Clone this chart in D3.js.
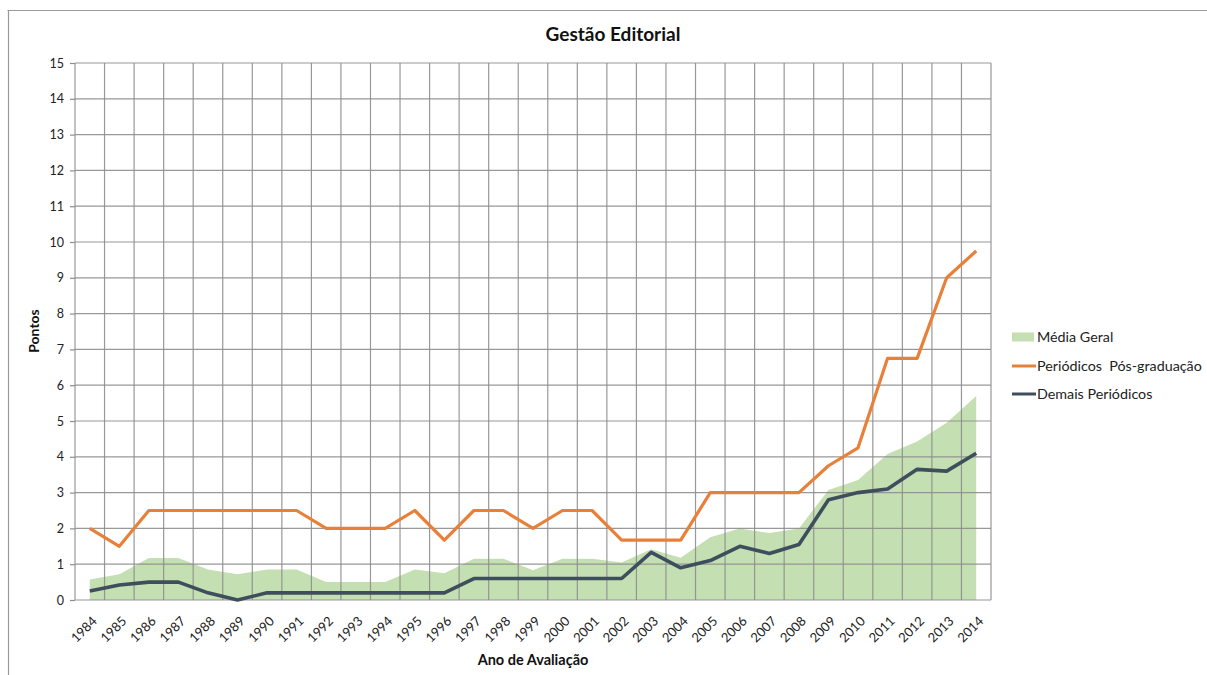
<!DOCTYPE html>
<html>
<head>
<meta charset="utf-8">
<script src="https://cdn.jsdelivr.net/npm/d3@7"></script>
<style>
  html, body { margin: 0; padding: 0; background: #fff; }
  svg { display: block; font-family: Lato, "Open Sans", sans-serif; }
</style>
</head>
<body>
<svg id="chart" width="1207" height="675"></svg>
<script>
const years = ["1984","1985","1986","1987","1988","1989","1990","1991","1992","1993","1994","1995","1996","1997","1998","1999","2000","2001","2002","2003","2004","2005","2006","2007","2008","2009","2010","2011","2012","2013","2014"];
const mediaGeral = [0.57,0.72,1.17,1.17,0.85,0.72,0.85,0.85,0.5,0.5,0.5,0.85,0.75,1.15,1.15,0.83,1.15,1.15,1.05,1.42,1.18,1.75,2.0,1.87,2.0,3.07,3.35,4.08,4.43,4.95,5.7];
const posGraduacao = [2,1.5,2.5,2.5,2.5,2.5,2.5,2.5,2,2,2,2.5,1.67,2.5,2.5,2,2.5,2.5,1.67,1.67,1.67,3,3,3,3,3.75,4.25,6.75,6.75,9,9.75];
const demais = [0.25,0.42,0.5,0.5,0.2,0,0.2,0.2,0.2,0.2,0.2,0.2,0.2,0.6,0.6,0.6,0.6,0.6,0.6,1.33,0.9,1.1,1.5,1.3,1.55,2.8,3.0,3.1,3.65,3.6,4.1];
const yTicks = [0,1,2,3,4,5,6,7,8,9,10,11,12,13,14,15];
const seriesNames = ["Média Geral","Periódicos  Pós-graduação","Demais Periódicos"];
const colors = {area:"#c4dfb2", orange:"#e8803a", dark:"#3e4e5c", grid:"#8e8e8e"};

const svg = d3.select("#chart");
const L = 75, R = 991, T = 63, B = 600;
const x = d3.scaleBand().domain(years).range([L, R]);
const y = d3.scaleLinear().domain([0, 15]).range([B, T]);
const cx = d => x(d) + x.bandwidth() / 2;

// outer frame (partial)
svg.append("line").attr("x1", 7.5).attr("x2", 1207).attr("y1", 10.5).attr("y2", 10.5).attr("stroke", "#999").attr("stroke-width", 1.2);
svg.append("line").attr("x1", 8.5).attr("x2", 8.5).attr("y1", 10.5).attr("y2", 675).attr("stroke", "#999").attr("stroke-width", 1.2);

// area
const areaData = years.map((d, i) => ({year: d, v: mediaGeral[i]}));
svg.append("path").datum(areaData)
  .attr("fill", colors.area)
  .attr("d", d3.area().x(d => cx(d.year)).y0(y(0)).y1(d => y(d.v)));

// grid
const g = svg.append("g");
g.selectAll("line.h").data(yTicks).join("line")
  .attr("x1", L).attr("x2", R).attr("y1", d => y(d)).attr("y2", d => y(d))
  .attr("stroke", colors.grid).attr("stroke-width", 1.2).attr("opacity", 0.9);
const vx = years.map(d => x(d)).concat([R]);
g.selectAll("line.v").data(vx).join("line")
  .attr("x1", d => d).attr("x2", d => d).attr("y1", T).attr("y2", B)
  .attr("stroke", colors.grid).attr("stroke-width", 1.2).attr("opacity", 0.9);

// y axis
const yAxis = d3.axisLeft(y).tickValues(yTicks).tickSize(5).tickPadding(6);
const ya = svg.append("g").attr("transform", `translate(${L},0)`).call(yAxis);
ya.select(".domain").remove();
ya.selectAll(".tick line").attr("stroke", colors.grid).attr("stroke-width", 1.2);
ya.selectAll("text").attr("font-size", 12.5).attr("fill", "#222").attr("font-family", "Lato");

// x axis labels
const xAxis = d3.axisBottom(x).tickSize(0).tickPadding(0);
const xa = svg.append("g").attr("transform", `translate(0,${B})`).call(xAxis);
xa.select(".domain").remove();
xa.selectAll("text")
  .attr("font-size", 13).attr("fill", "#222").attr("font-family", "Lato")
  .attr("text-anchor", "end").attr("dy", null)
  .attr("transform", "translate(8,22) rotate(-45)");

// lines
const line = d3.line().x((d, i) => cx(years[i])).y(d => y(d));
svg.append("path").datum(posGraduacao).attr("fill", "none").attr("stroke", colors.orange)
  .attr("stroke-width", 3.2).attr("stroke-linejoin", "round").attr("d", line);
svg.append("path").datum(demais).attr("fill", "none").attr("stroke", colors.dark)
  .attr("stroke-width", 3.6).attr("stroke-linejoin", "round").attr("d", line);

// titles
svg.append("text").attr("x", 613).attr("y", 41).attr("text-anchor", "middle")
  .attr("font-size", 19).attr("font-weight", "bold").attr("fill", "#111").text("Gestão Editorial");
svg.append("text").attr("transform", "translate(39,331) rotate(-90)").attr("text-anchor", "middle")
  .attr("font-size", 14).attr("font-weight", "bold").attr("fill", "#111").text("Pontos");
svg.append("text").attr("x", 533).attr("y", 665).attr("text-anchor", "middle")
  .attr("font-size", 14.5).attr("font-weight", "bold").attr("fill", "#111").text("Ano de Avaliação");

// legend
const lg = svg.append("g");
const ly = [337, 366, 394];
lg.append("rect").attr("x", 1012).attr("y", ly[0] - 4.5).attr("width", 22).attr("height", 9).attr("fill", colors.area);
lg.append("line").attr("x1", 1012).attr("x2", 1036).attr("y1", ly[1]).attr("y2", ly[1]).attr("stroke", colors.orange).attr("stroke-width", 3);
lg.append("line").attr("x1", 1012).attr("x2", 1036).attr("y1", ly[2]).attr("y2", ly[2]).attr("stroke", colors.dark).attr("stroke-width", 3);
lg.selectAll("text").data(seriesNames).join("text")
  .attr("x", 1037).attr("y", (d, i) => ly[i] + 5)
  .attr("font-size", 14.3).attr("fill", "#222")
  .style("white-space", "pre").text(d => d);
</script>
</body>
</html>
